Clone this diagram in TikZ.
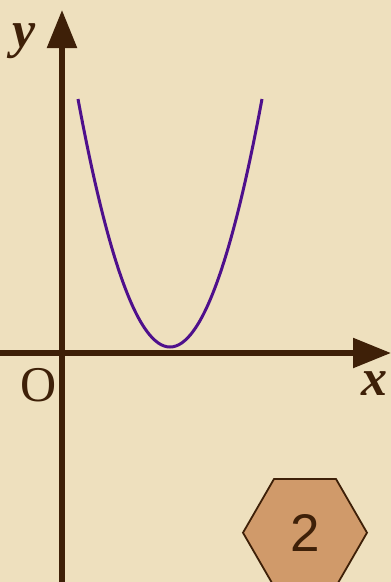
\documentclass[tikz,border=0pt]{standalone}
\usepackage{fontspec}
\setmainfont{Liberation Serif}
\newfontfamily\arialf{Liberation Sans}
\usetikzlibrary{arrows.meta,shapes.geometric}
\definecolor{parch}{RGB}{238,224,190}
\definecolor{axisbrown}{RGB}{62,32,8}
\definecolor{curvepurple}{RGB}{78,16,140}
\definecolor{hexfill}{RGB}{208,154,106}
\tikzset{
  axisline/.style={draw=axisbrown, line width=5.5pt, -{Triangle[length=38pt,width=29pt]}},
  curveline/.style={draw=curvepurple, line width=3pt},
  axislabel/.style={text=axisbrown, font=\fontsize{52}{52}\selectfont\bfseries\itshape, inner sep=0pt, anchor=base west},
  hexbox/.style={regular polygon, regular polygon sides=6, minimum size=124pt, inner sep=0pt,
    draw=axisbrown, line width=1.8pt, fill=hexfill, text=axisbrown, font=\arialf\fontsize{53}{53}\selectfont}
}
\begin{document}
\begin{tikzpicture}[x=1pt,y=-1pt]
  \fill[parch] (0,0) rectangle (391,582);
  \useasboundingbox (0,0) rectangle (391,582);
  \begin{scope}
    \clip (0,0) rectangle (391,582);
    % axes
    \coordinate (xs) at (0,353);
    \coordinate (xe) at (391,353);
    \coordinate (ys) at (62,582);
    \coordinate (ye) at (62,10);
    \draw[axisline] (xs) -- (xe);
    \draw[axisline] (ys) -- (ye);
    % parabola
    \coordinate (pl) at (78,99);
    \coordinate (pr) at (262,99);
    \draw[curveline] (pl) .. controls (139.33,429.67) and (200.67,429.67) .. (pr);
    % labels
    \node[axislabel] (ylab) at (12,47) {y};
    \node[axislabel] (xlab) at (361,395) {x};
    \node[text=axisbrown, font=\fontsize{50}{50}\selectfont, inner sep=0pt, anchor=base west] (olab) at (20,401) {O};
    % hexagon
    \node[hexbox] (hex) at (305,532.7) {2};
  \end{scope}
\end{tikzpicture}
\end{document}
